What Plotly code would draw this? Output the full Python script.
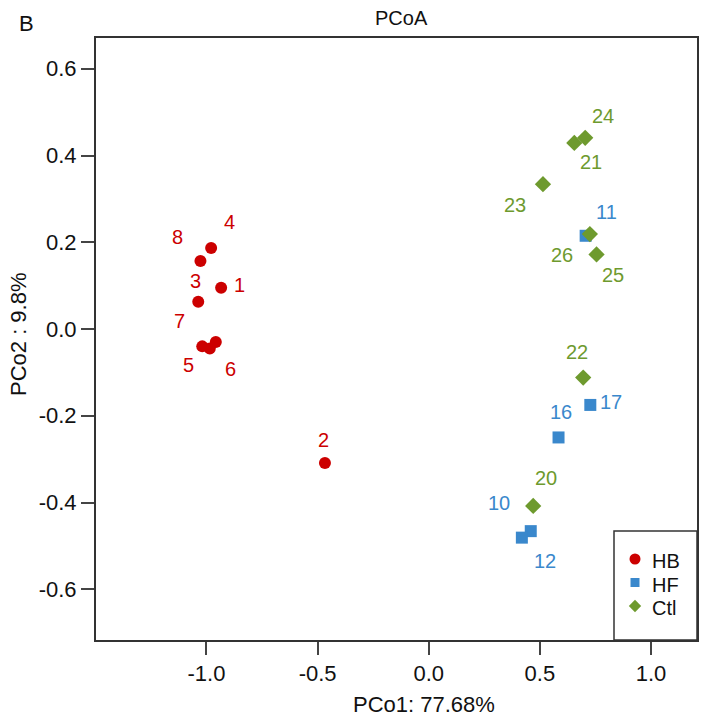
import plotly.graph_objects as go

# ---------------- data ----------------
hb_labels = ["1", "2", "3", "4", "5", "6", "7", "8"]
hb_x = [-0.934, -0.467, -0.958, -0.979, -1.019, -0.985, -1.037, -1.027]
hb_y = [0.095, -0.309, -0.030, 0.187, -0.040, -0.045, 0.063, 0.157]

hf_labels = ["10", "11", "12", "16", "17"]
hf_x = [0.459, 0.706, 0.419, 0.584, 0.727]
hf_y = [-0.466, 0.215, -0.481, -0.250, -0.175]

ctl_labels = ["20", "21", "22", "23", "24", "25", "26"]
ctl_x = [0.470, 0.655, 0.695, 0.514, 0.704, 0.755, 0.725]
ctl_y = [-0.408, 0.429, -0.112, 0.334, 0.441, 0.172, 0.219]

group_names = ["HB", "HF", "Ctl"]

x_tickvals = [-1.0, -0.5, 0.0, 0.5, 1.0]
x_ticktext = ["-1.0", "-0.5", "0.0", "0.5", "1.0"]
y_tickvals = [-0.6, -0.4, -0.2, 0.0, 0.2, 0.4, 0.6]
y_ticktext = ["-0.6", "-0.4", "-0.2", "0.0", "0.2", "0.4", "0.6"]

title_text = "PCoA"
x_title = "PCo1: 77.68%"
y_title = "PCo2 : 9.8%"
panel_letter = "B"

# ---------------- styling (label offsets in pixels: right, down) ----------------
hb_offsets = [(18, -5), (-1, -25), (-20, -63), (18, -28), (-14, 17), (21, 18), (-19, 17), (-23, -26)]
hf_offsets = [(-32, -30), (21, -26), (23, 21), (2, -27), (21, -5)]
ctl_offsets = [(13, -30), (17, 17), (-6, -28), (-28, 19), (18, -24), (16, 19), (-28, 19)]

RED = "#CC0000"
BLUE = "#3A88CC"
GREEN = "#6E9A2E"
FONT = "Liberation Sans, Arial, sans-serif"
INK = "#111111"
FRAME = "#333333"

W, H = 708, 722
# plot box in window pixels
BOX_L, BOX_R, BOX_T, BOX_B = 96, 697, 38, 640
L, T = BOX_L, BOX_T
R = W - BOX_R
B = H - BOX_B


def px2paper_x(px):
    return (px - BOX_L) / (BOX_R - BOX_L)


def px2paper_y(py):
    return (BOX_B - py) / (BOX_B - BOX_T)


fig = go.Figure()

groups = [
    (group_names[0], hb_x, hb_y, hb_labels, hb_offsets, RED, "circle", 12, 11),
    (group_names[1], hf_x, hf_y, hf_labels, hf_offsets, BLUE, "square", 12, 9),
    (group_names[2], ctl_x, ctl_y, ctl_labels, ctl_offsets, GREEN, "diamond", 12.5, 9.5),
]

# legend layout (window pixels)
LEG_MARK_X = 635
LEG_TEXT_X = 650
LEG_ROWS_Y = [559, 582.5, 606]

annotations = []
for gi, (name, xs, ys, labs, offs, col, sym, size, lsize) in enumerate(groups):
    fig.add_trace(go.Scatter(
        x=xs, y=ys, mode="markers", name=name, showlegend=False,
        marker=dict(color=col, symbol=sym, size=size, line=dict(width=0)),
        hoverinfo="text", text=labs,
    ))
    for xv, yv, lab, (dx, dy) in zip(xs, ys, labs, offs):
        annotations.append(dict(
            x=xv, y=yv, xref="x", yref="y", text=lab, showarrow=False,
            xanchor="center", yanchor="middle", xshift=dx, yshift=-dy - 2,
            font=dict(family=FONT, size=20, color=col),
        ))
    # legend key (drawn on a pixel-unit overlay axis)
    fig.add_trace(go.Scatter(
        x=[LEG_MARK_X], y=[LEG_ROWS_Y[gi]], xaxis="x2", yaxis="y2",
        mode="markers", showlegend=False, hoverinfo="skip",
        marker=dict(color=col, symbol=sym, size=lsize, line=dict(width=0)),
    ))
    annotations.append(dict(
        x=LEG_TEXT_X, y=LEG_ROWS_Y[gi] + 2, xref="x2", yref="y2", text=name,
        showarrow=False, xanchor="left", yanchor="middle",
        font=dict(family=FONT, size=20, color=INK),
    ))

# titles as annotations
annotations.append(dict(
    x=px2paper_x(401), y=px2paper_y(18), xref="paper", yref="paper",
    text=title_text, showarrow=False, xanchor="center", yanchor="middle",
    font=dict(family=FONT, size=20, color=INK)))
annotations.append(dict(
    x=px2paper_x(26), y=px2paper_y(24), xref="paper", yref="paper",
    text=panel_letter, showarrow=False, xanchor="center", yanchor="middle",
    font=dict(family=FONT, size=22, color=INK)))
annotations.append(dict(
    x=px2paper_x(424), y=px2paper_y(704), xref="paper", yref="paper",
    text=x_title, showarrow=False, xanchor="center", yanchor="middle",
    font=dict(family=FONT, size=22, color=INK)))
annotations.append(dict(
    x=px2paper_x(18), y=px2paper_y(334), xref="paper", yref="paper",
    text=y_title, showarrow=False, xanchor="center", yanchor="middle", textangle=-90,
    font=dict(family=FONT, size=22, color=INK)))

# legend box
shapes = [dict(
    type="rect", xref="paper", yref="paper",
    x0=px2paper_x(614), x1=1, y0=0, y1=px2paper_y(531),
    line=dict(color=FRAME, width=1.5), fillcolor="rgba(0,0,0,0)", layer="above",
)]

axis_common = dict(
    showgrid=False, zeroline=False, showline=True, mirror=True,
    linecolor=FRAME, linewidth=2, ticks="outside", ticklen=13, tickwidth=1.5,
    tickcolor="#444444", tickfont=dict(family=FONT, size=22, color=INK),
    tickmode="array", automargin=False,
)

fig.update_layout(
    width=W, height=H, autosize=False,
    margin=dict(l=L, r=R, t=T, b=B, pad=0),
    paper_bgcolor="white", plot_bgcolor="white",
    xaxis=dict(range=[-1.497, 1.207], tickvals=x_tickvals, ticktext=x_ticktext, **axis_common),
    yaxis=dict(range=[-0.717, 0.671], tickvals=y_tickvals, ticktext=y_ticktext, **axis_common),
    xaxis2=dict(range=[BOX_L, BOX_R], overlaying="x", visible=False, fixedrange=True),
    yaxis2=dict(range=[BOX_B, BOX_T], overlaying="y", visible=False, fixedrange=True),
    showlegend=False,
    annotations=annotations,
    shapes=shapes,
)

fig.write_html(
    "out.html",
    config={"displayModeBar": False},
    post_script="document.body.style.margin='0';document.body.style.overflow='hidden';",
)
